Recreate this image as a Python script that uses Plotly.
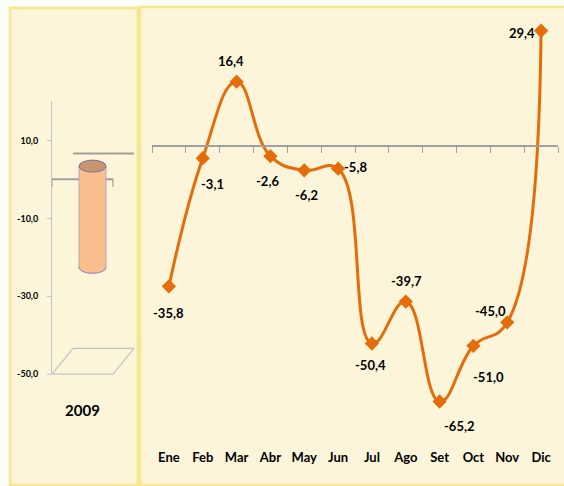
import plotly.graph_objects as go

# ---- data ----
months = ["Ene", "Feb", "Mar", "Abr", "May", "Jun", "Jul", "Ago", "Set", "Oct", "Nov", "Dic"]
values_2010 = [-35.8, -3.1, 16.4, -2.6, -6.2, -5.8, -50.4, -39.7, -65.2, -51.0, -45.0, 29.4]
year_label = ["2009"]
value_2009 = [-26.0]
left_ticks = [10.0, -10.0, -30.0, -50.0]
left_tick_text = [f"{t:.1f}".replace(".", ",") for t in left_ticks]

# ---- styling / positions (pixels of a 564x486 canvas) ----
W, H = 564, 486
FONT = "Lato, Roboto, sans-serif"
ORANGE = "#E46C0A"
PANEL = "#FCF5D9"
BORDER = "#F8E58C"
GRAY = "#A0A0A0"
LGRAY = "#C4C4C4"
TXT = "#000000"

def px(x):
    return x / W

def py(y):
    return 1 - y / H

# label offsets (dx, dy) in pixels, screen down positive
label_offsets = [(0, 27), (10, 26), (-6, -21), (-3, 25), (2, 25), (17, -2),
                 (-1, 21), (1, -21), (20, 24), (15, 31), (-17, -11), (-19, 2)]

# main plot pixel geometry
main_x0, main_x1 = 152, 558
main_top, main_bot = 20, 450
scale = 3.96
zero_px = 147.5
main_range = [(zero_px - main_bot) / scale, (zero_px - main_top) / scale]

# left plot geometry
lx0, lx1 = 52, 113            # front face
depth_dx, depth_dy = 21, -26  # back offset
ltop, lbot = 102, 378
lscale = 3.933
l_range = [-50.0, -50.0 + (lbot - ltop) / lscale]
shift = 13.5 / lscale         # mid-depth shift
l4_range = [l_range[0] - shift, l_range[1] - shift]
bar_w = 27 / (lx1 - lx0)
bar_off = (79 - (lx0 + lx1) / 2) / (lx1 - lx0)

fig = go.Figure()

# helper trace so the zero axis is drawn
fig.add_trace(go.Scatter(x=[-0.5, 11.5], y=[0, 0], xaxis="x2", yaxis="y",
                         mode="lines", line=dict(width=0), hoverinfo="skip",
                         showlegend=False))

fig.add_trace(go.Scatter(
    x=months, y=values_2010, mode="lines+markers",
    line=dict(color=ORANGE, width=3, shape="spline", smoothing=1.25),
    marker=dict(symbol="diamond", size=11, color=ORANGE),
    showlegend=False, hoverinfo="skip"))

fig.add_trace(go.Bar(
    x=year_label, y=value_2009, xaxis="x3", yaxis="y4",
    width=bar_w, offset=bar_off,
    marker=dict(color="#F9BE8C", line=dict(width=0)),
    showlegend=False, hoverinfo="skip"))

# helper trace so the left axis is drawn
fig.add_trace(go.Scatter(x=year_label, y=[0], xaxis="x3", yaxis="y3",
                         mode="markers", marker=dict(opacity=0),
                         hoverinfo="skip", showlegend=False))

shapes = []
# panels
shapes.append(dict(type="rect", xref="paper", yref="paper",
                   x0=px(10), x1=px(138), y0=py(490), y1=py(8),
                   fillcolor=PANEL, line=dict(color=BORDER, width=2.5), layer="below"))
shapes.append(dict(type="rect", xref="paper", yref="paper",
                   x0=px(140), x1=px(570), y0=py(490), y1=py(7),
                   fillcolor=PANEL, line=dict(color=BORDER, width=2.5), layer="below"))

def seg(x0, y0, x1, y1, color, width):
    return dict(type="line", xref="paper", yref="paper",
                x0=px(x0), y0=py(y0), x1=px(x1), y1=py(y1),
                line=dict(color=color, width=width), layer="below")

# 3D frame lines (left)
zf = 181
shapes.append(seg(lx0, zf, lx1, zf, GRAY, 2))
shapes.append(seg(lx0, zf, lx0, zf + 8, GRAY, 1.2))
shapes.append(seg(lx1, zf, lx1, zf + 8, GRAY, 1.2))
shapes.append(seg(lx0 + depth_dx, zf + depth_dy, lx1 + depth_dx, zf + depth_dy, GRAY, 2))
# floor
shapes.append(seg(lx0, lbot, lx1, lbot, LGRAY, 1.3))
shapes.append(seg(lx0 + depth_dx, lbot + depth_dy, lx1 + depth_dx, lbot + depth_dy, LGRAY, 1.3))
shapes.append(seg(lx0, lbot, lx0 + depth_dx, lbot + depth_dy, LGRAY, 1.3))
shapes.append(seg(lx1, lbot, lx1 + depth_dx, lbot + depth_dy, LGRAY, 1.3))

# cylinder caps and sides
bx0, bx1 = bar_off, bar_off + bar_w
shapes.append(dict(type="circle", xref="x3", yref="y4", ysizemode="pixel",
                   yanchor=value_2009[0], y0=-6, y1=6, x0=bx0, x1=bx1,
                   fillcolor="#F9BE8C", line=dict(color="#8A7BB5", width=1),
                   layer="below"))
for bx in (bx0, bx1):
    shapes.append(dict(type="line", xref="x3", yref="y4", x0=bx, x1=bx,
                       y0=0, y1=value_2009[0],
                       line=dict(color="#A899C8", width=0.8), layer="above"))
shapes.append(dict(type="circle", xref="x3", yref="y4", ysizemode="pixel",
                   yanchor=0, y0=-6, y1=6, x0=bx0, x1=bx1,
                   fillcolor="#C9966B", line=dict(color="#7B6BA8", width=1),
                   layer="above"))

annotations = []
for m, v, (dx, dy) in zip(months, values_2010, label_offsets):
    annotations.append(dict(x=m, y=v, xref="x", yref="y",
                            text=f"{v:.1f}".replace(".", ","),
                            showarrow=False, xshift=dx, yshift=-dy,
                            font=dict(family=FONT, size=13, color=TXT, weight="bold")))

fig.update_layout(
    width=W, height=H, margin=dict(l=0, r=0, t=0, b=0),
    paper_bgcolor="#FEFEF8", plot_bgcolor="rgba(0,0,0,0)",
    separators=",.",
    font=dict(family=FONT, color=TXT),
    shapes=shapes, annotations=annotations,
    xaxis=dict(domain=[px(main_x0), px(main_x1)], type="category",
               range=[-0.5, 11.5], showline=False, ticks="", showgrid=False,
               zeroline=False, anchor="y", ticklabelstandoff=3,
               tickfont=dict(family=FONT, size=13, color=TXT, weight="bold")),
    yaxis=dict(domain=[py(main_bot), py(main_top)], range=main_range,
               visible=False, anchor="x"),
    xaxis2=dict(overlaying="x", anchor="free", position=py(zero_px),
                range=[-0.5, 11.5], tickmode="array",
                tickvals=[i - 0.5 for i in range(len(months) + 1)],
                showticklabels=False, ticks="outside", ticklen=6,
                tickcolor=GRAY, tickwidth=1.2, showline=True,
                linecolor=GRAY, linewidth=1.8, showgrid=False, zeroline=False),
    xaxis3=dict(domain=[px(lx0), px(lx1)], type="category", range=[-0.5, 0.5],
                anchor="y3", showline=False, ticks="", showgrid=False,
                ticklabelstandoff=26,
                tickfont=dict(family=FONT, size=15, color=TXT, weight="bold")),
    yaxis3=dict(domain=[py(lbot), py(ltop)], range=l_range, anchor="x3",
                tickmode="array", tickvals=left_ticks, ticktext=left_tick_text,
                ticks="outside", ticklen=4, tickcolor=LGRAY, showline=True,
                linecolor=LGRAY, linewidth=1, showgrid=False, zeroline=False,
                ticklabelstandoff=7,
                tickfont=dict(family=FONT, size=9, color=TXT, weight="bold")),
    yaxis4=dict(overlaying="y3", range=l4_range, visible=False, anchor="x3"),
)

fig.write_html("out.html", config={"displayModeBar": False},
               post_script="document.body.style.margin='0';")
